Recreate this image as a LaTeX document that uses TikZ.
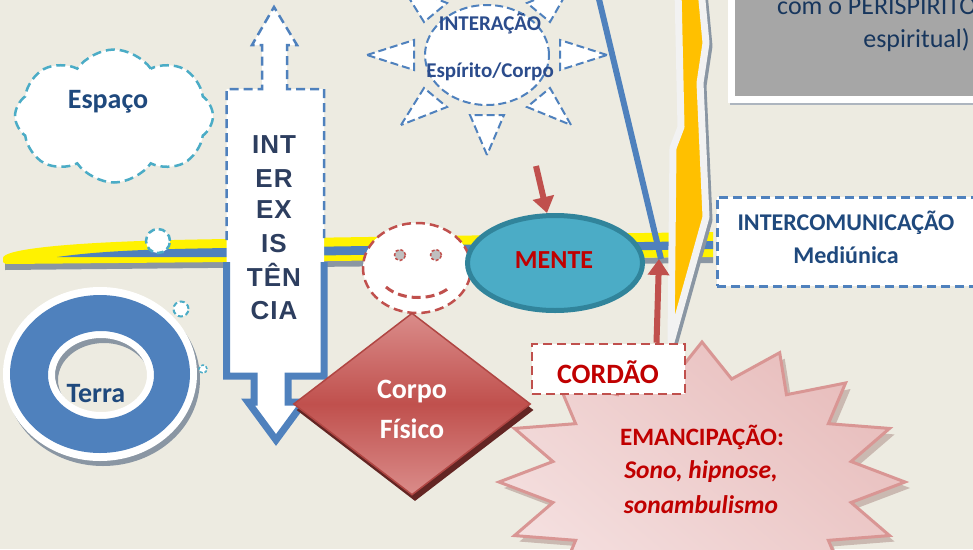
\documentclass[tikz,border=0pt]{standalone}
\usepackage{fontspec}
\setmainfont{Carlito}
\newfontfamily\interfont{Liberation Sans}[LetterSpace=4]
\usetikzlibrary{shapes.symbols,shapes.geometric,arrows.meta}
\definecolor{bgc}{RGB}{237,235,225}
\definecolor{bluec}{RGB}{79,129,189}
\definecolor{tealc}{RGB}{75,172,198}
\definecolor{darkteal}{RGB}{49,132,155}
\definecolor{redc}{RGB}{192,80,77}
\definecolor{redtext}{RGB}{192,0,0}
\definecolor{darkblue}{RGB}{31,73,125}
\definecolor{sunblue}{RGB}{43,76,140}
\definecolor{navy}{RGB}{23,54,93}
\definecolor{intertext}{RGB}{45,62,95}
\definecolor{shadowgrey}{RGB}{138,150,163}
\definecolor{gold}{RGB}{255,192,0}
\definecolor{boxgrey}{RGB}{166,166,166}
\definecolor{eyegrey}{RGB}{191,191,191}
\definecolor{pinkL}{RGB}{245,225,225}
\definecolor{pinkD}{RGB}{232,190,189}
\definecolor{pinkborder}{RGB}{217,150,148}
\definecolor{dtop}{RGB}{218,140,138}
\definecolor{dborder}{RGB}{176,70,67}
\definecolor{dshadow}{RGB}{99,37,35}
\begin{document}
\begin{tikzpicture}[x=1pt,y=-1pt,
  dashteal/.style={draw=tealc, line width=2.5pt, dash pattern=on 9pt off 5pt},
  dashblue/.style={draw=bluec, line width=2.5pt, dash pattern=on 9pt off 5pt},
  dashred/.style={draw=redc, line width=2.5pt, dash pattern=on 9pt off 5pt},
  redarrow/.style={draw=redc, line width=6pt, -{Triangle[length=16pt,width=21pt]}},
  bt/.style={font=\bfseries\fontsize{#1}{#1}\selectfont, anchor=base, inner sep=0pt},
  intext/.style={font=\interfont\bfseries\fontsize{26}{26}\selectfont, text=intertext, anchor=base, inner sep=0pt}
]
\useasboundingbox (0,0) rectangle (973,549);
\clip (0,0) rectangle (973,549);
\fill[bgc] (0,0) rectangle (973,549);

% cloud Espaco
\node[cloud, cloud puffs=8, cloud puff arc=110, aspect=1.5, minimum width=198pt, minimum height=133pt, fill=white, dashteal] (espaco) at (114,116) {};
\node[bt=28, text=darkblue] (espacot) at (108,108) {Espaço};

% Terra ring
\fill[shadowgrey, even odd rule] (103,379) ellipse [x radius=97, y radius=87] (104,380) ellipse [x radius=46, y radius=37];
\fill[white, even odd rule] (100,374) ellipse [x radius=97, y radius=87] (101,375) ellipse [x radius=46, y radius=37];
\fill[bluec, even odd rule] (100,374) ellipse [x radius=90, y radius=79] (101,375) ellipse [x radius=53, y radius=44];
\node[bt=28, text=darkblue] (terra) at (96,402) {Terra};

% bar
\fill[shadowgrey] (5,263) -- (713,257) -- (713,263) -- (5,270) -- cycle;
\fill[yellow] (3,258) .. controls (3,250) and (60,241) .. (230,239) -- (713,232) -- (713,257) -- (230,262) -- (6,264) .. controls (3,264) and (3,262) .. (3,258) -- cycle;
\fill[bluec] (57,257) .. controls (100,251) and (150,249) .. (230,248) -- (713,241) -- (713,249) -- (230,257) -- cycle;

% thought bubbles
\node[circle, fill=white, draw=tealc, line width=2.5pt, dash pattern=on 7pt off 4pt, minimum size=24pt, inner sep=0pt] (bub1) at (158,241) {};
\node[circle, fill=white, draw=tealc, line width=2pt, dash pattern=on 5pt off 3pt, minimum size=15pt, inner sep=0pt] (bub2) at (181,309) {};
\node[circle, fill=white, draw=tealc, line width=1.5pt, dash pattern=on 3pt off 2pt, minimum size=8pt, inner sep=0pt] (bub3) at (203,369) {};

% sun
\begin{scope}[shift={(487,55)}]
  \filldraw[fill=white, dashblue, line width=2pt, dash pattern=on 8pt off 4pt]
    (120,0) -- (73,-15) -- (73,15) -- cycle
    (-120,0) -- (-73,-15) -- (-73,15) -- cycle
    (0,100) -- (-17,60) -- (17,60) -- cycle
    (0,-100) -- (-17,-60) -- (17,-60) -- cycle
    (84,70) -- (63,33) -- (40,52) -- cycle
    (-86,70) -- (-63,33) -- (-40,52) -- cycle
    (84,-70) -- (63,-33) -- (40,-52) -- cycle
    (-86,-70) -- (-63,-33) -- (-40,-52) -- cycle;
  \node[ellipse, fill=white, draw=bluec, line width=2pt, dash pattern=on 8pt off 4pt, minimum width=124pt, minimum height=100pt] (sun) at (0,0) {};
\end{scope}
\node[bt=21, text=sunblue] (inter1) at (490,30) {INTERAÇÃO};
\node[bt=21, text=sunblue] (inter2) at (490,77) {Espírito/Corpo};

% grey box top right
\node[rectangle, fill=shadowgrey!70, anchor=south west, minimum width=270pt, minimum height=140pt] (pershadow) at (730,105) {};
\node[rectangle, fill=boxgrey, draw=white, line width=7pt, anchor=south west, minimum width=270pt, minimum height=140pt] (perbox) at (728,102.5) {};
\node[font=\fontsize{26}{30}\selectfont, text=navy, anchor=base west, inner sep=0pt] (per1) at (777,14) {com o PERISPÍRITO};
\node[font=\fontsize{26}{30}\selectfont, text=navy, anchor=base east, inner sep=0pt] (per2) at (970,47) {espiritual)};

% blue line
\coordinate (bltop) at (598,-5);
\coordinate (blbot) at (661,259);
\draw[bluec, line width=6pt] (bltop) -- (blbot);

% INTEREXISTENCIA arrow
\fill[white] (274,7) -- (297,45) -- (287,45) -- (287,89) -- (324,89) -- (324,376) -- (288,376) -- (288,402) -- (304,402) -- (276,440) -- (248,402) -- (254,402) -- (254,376) -- (226.5,376) -- (226.5,89) -- (262,89) -- (262,45) -- (252,45) -- cycle;
\draw[dashblue, line join=miter] (226.5,240) -- (226.5,89) -- (262,89) -- (262,45) -- (252,45) -- (274,7) -- (297,45) -- (287,45) -- (287,89) -- (324,89) -- (324,240);
\draw[bluec, line width=7pt, line join=miter] (226.5,262) -- (226.5,376) -- (254,376) -- (254,402) -- (248,402) -- (276,440) -- (304,402) -- (288,402) -- (288,376) -- (324,376) -- (324,262);
\foreach \t/\yy [count=\i] in {INT/153,ER/187,EX/218,IS/252,TÊN/286,CIA/319}
  \node[intext] (ie\i) at (274,\yy) {\t};

% smiley
\node[ellipse, fill=white, dashred, minimum width=108pt, minimum height=90pt] (smile) at (417,268) {};
\node[circle, fill=eyegrey, draw=redc, line width=1.5pt, dash pattern=on 3pt off 2pt, minimum size=11pt, inner sep=0pt] (eyeL) at (400,255) {};
\node[circle, fill=eyegrey, draw=redc, line width=1.5pt, dash pattern=on 3pt off 2pt, minimum size=11pt, inner sep=0pt] (eyeR) at (436,255) {};
\coordinate (mouthL) at (386,287);
\coordinate (mouthR) at (450,287);
\draw[redc, line width=3pt, dash pattern=on 9pt off 5pt] (mouthL) .. controls (402,301) and (434,301) .. (mouthR);

% MENTE
\node[ellipse, fill=tealc, draw=darkteal, line width=5pt, minimum width=175pt, minimum height=95pt, inner sep=0pt] (mente) at (555,263) {};
\node[bt=26, text=redtext] (mentet) at (554,268) {MENTE};

% lightning bolt
\begin{scope}[shift={(3,3)}]
\filldraw[fill=shadowgrey, draw=shadowgrey, line width=7pt, line join=round] (678,-10) -- (681,127) -- (673,148) -- (671,342) -- (706,217) -- (700,83) -- (706,43) -- (701,-10) -- cycle;
\end{scope}
\filldraw[fill=gold, draw=white!95!black, line width=7pt, line join=round] (678,-10) -- (681,127) -- (673,148) -- (671,342) -- (706,217) -- (700,83) -- (706,43) -- (701,-10) -- cycle;

% INTERCOMUNICACAO box
\node[rectangle, fill=white, dashblue, anchor=north west, minimum width=290pt, minimum height=89pt] (intercom) at (716,196) {};
\node[bt=24, text=darkblue] (ic1) at (846,230) {INTERCOMUNICAÇÃO};
\node[bt=24, text=darkblue] (ic2) at (846,263) {Mediúnica};

% star
\begin{scope}[shift={(707,488)}]
\fill[dshadow, opacity=0.25] (0:203 and 140) \foreach \i in {1,...,31} { -- ({\i*11.25}:{ifthenelse(isodd(\i),152,203)} and {ifthenelse(isodd(\i),105,140)}) } -- cycle;
\end{scope}
\begin{scope}[shift={(702,482)}]
\path[top color=pinkD, bottom color=pinkL, shading angle=-40, draw=pinkborder, line width=3pt] (0:203 and 140) \foreach \i in {1,...,31} { -- ({\i*11.25}:{ifthenelse(isodd(\i),152,203)} and {ifthenelse(isodd(\i),105,140)}) } -- cycle;
\end{scope}
\node[bt=25, text=redtext] (em1) at (702,445) {EMANCIPAÇÃO:};
\node[bt=25, text=redtext, font=\bfseries\itshape\fontsize{25.5}{25.5}\selectfont] (em2) at (701,478) {Sono, hipnose,};
\node[bt=25, text=redtext, font=\bfseries\itshape\fontsize{25.5}{25.5}\selectfont] (em3) at (701,513) {sonambulismo};

% Corpo Fisico diamond
\node[diamond, fill=dshadow, minimum width=237pt, minimum height=182pt, inner sep=0pt] (corposh) at (415,410) {};
\node[diamond, top color=dtop, bottom color=dtop, middle color=redc, draw=dborder, line width=1.5pt, minimum width=237pt, minimum height=182pt, inner sep=0pt] (corpo) at (412,404) {};
\node[bt=28, text=white] (corpo1) at (412,398) {Corpo};
\node[bt=28, text=white] (corpo2) at (412,438) {Físico};

% CORDAO box
\node[rectangle, fill=white, dashred, minimum width=153pt, minimum height=50pt] (cordao) at (608.5,369) {};
\node[bt=28, text=redtext] (cordaot) at (608,383) {CORDÃO};

% red arrows
\coordinate (mfrom) at (536,166);
\draw[redarrow] (mfrom) -- ([xshift=-8pt]mente.north);
\coordinate (barpt) at (659,259);
\draw[redarrow] ([xshift=48pt]cordao.north) -- (barpt);
\end{tikzpicture}
\end{document}
